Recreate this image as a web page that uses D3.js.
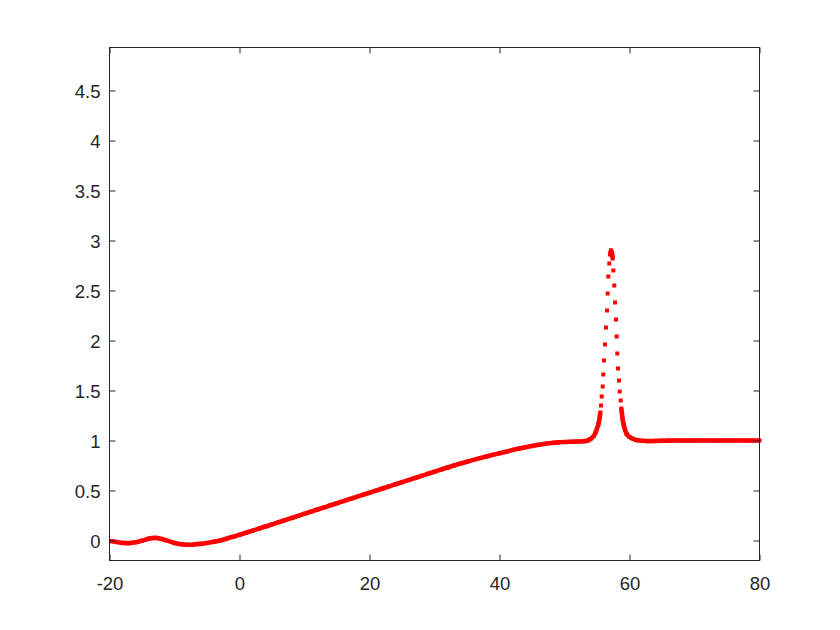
<!DOCTYPE html>
<html>
<head>
<meta charset="utf-8">
<script src="https://cdn.jsdelivr.net/npm/d3@7"></script>
<style>
  html, body { margin: 0; padding: 0; background: #ffffff; }
  svg { display: block; }
</style>
</head>
<body>
<svg id="chart" width="840" height="630"></svg>
<script>
// ---- data ----
const xTickValues = [-20, 0, 20, 40, 60, 80];
const xTickLabels = ["-20", "0", "20", "40", "60", "80"];
const yTickValues = [0, 0.5, 1, 1.5, 2, 2.5, 3, 3.5, 4, 4.5];
const yTickLabels = ["0", "0.5", "1", "1.5", "2", "2.5", "3", "3.5", "4", "4.5"];

const seriesX = [
  -20, -19, -18, -17, -16, -15, -14, -13, -12, -11,
  -10, -9, -8, -7, -6, -5, -4, -3, -2, -1,
  0, 1, 2, 3, 4, 5, 6, 7, 8, 9,
  10, 11, 12, 13, 14, 15, 16, 17, 18, 19,
  20, 21, 22, 23, 24, 25, 26, 27, 28, 29,
  30, 31, 32, 33, 34, 35, 36, 37, 38, 39,
  40, 41, 42, 43, 44, 45, 46, 47, 48, 49,
  50, 51, 52, 53, 53.5, 54, 54.5, 54.8, 55.0, 55.2,
  55.31, 55.42, 55.51, 55.62, 55.72, 55.88, 55.97, 56.08, 56.23, 56.38,
  56.54, 56.64, 56.74, 56.89, 57.0, 57.15, 57.28, 57.41, 57.51, 57.66,
  57.77, 57.92, 58.03, 58.12, 58.23, 58.38, 58.49, 58.65, 58.74, 58.85,
  58.95, 59.1, 59.3, 59.57, 60, 60.6, 61, 62, 63, 64,
  65, 66, 67, 68, 69, 70, 71, 72, 73, 74,
  75, 76, 77, 78, 79, 80
];
const seriesY = [
  -0.005, -0.015, -0.024, -0.026, -0.018, -0.002, 0.018, 0.026, 0.016, -0.004,
  -0.024, -0.037, -0.042, -0.040, -0.034, -0.025, -0.013, 0.001, 0.018, 0.037,
  0.057, 0.077, 0.098, 0.119, 0.140, 0.161, 0.182, 0.204, 0.225, 0.246,
  0.267, 0.289, 0.310, 0.331, 0.352, 0.373, 0.394, 0.415, 0.436, 0.457,
  0.478, 0.499, 0.520, 0.541, 0.562, 0.583, 0.604, 0.625, 0.646, 0.667,
  0.688, 0.709, 0.730, 0.750, 0.769, 0.788, 0.806, 0.824, 0.841, 0.857,
  0.872, 0.887, 0.905, 0.919, 0.933, 0.946, 0.958, 0.967, 0.975, 0.981,
  0.985, 0.988, 0.990, 0.993, 0.998, 1.015, 1.045, 1.085, 1.12, 1.16,
  1.19, 1.23, 1.28, 1.35, 1.44, 1.54, 1.66, 1.80, 1.96, 2.13,
  2.30, 2.47, 2.64, 2.77, 2.86, 2.90, 2.88, 2.82, 2.70, 2.55,
  2.38, 2.21, 2.04, 1.87, 1.72, 1.60, 1.49, 1.40, 1.32, 1.26,
  1.21, 1.16, 1.11, 1.065, 1.035, 1.015, 1.005, 0.997, 0.994, 0.996,
  0.998, 0.999, 1.000, 1.000, 1.000, 1.000, 1.000, 1.000, 1.000, 1.000,
  1.000, 1.000, 1.000, 1.000, 1.000, 1.000
];

(function () {
  const svg = d3.select("#chart");
  const mLeft = 109.5, mRight = 759.5, mTop = 47.5, mBottom = 560.5;
  const axisColor = "#262626";
  const red = "#ff0000";
  const fontFamily = "Arial, 'Liberation Sans', Helvetica, sans-serif";
  const fontSize = 18.5;
  const tickLen = 6;

  const x = d3.scaleLinear().domain([-20, 80]).range([mLeft, mRight]);
  const y = d3.scaleLinear().domain([-0.2, 4.93]).range([mBottom, mTop]);

  const clip = svg.append("clipPath").attr("id", "plotclip");
  clip.append("rect").attr("x", mLeft).attr("y", mTop - 10)
    .attr("width", mRight - mLeft + 6).attr("height", mBottom - mTop + 10);

  const pts = seriesX.map((v, i) => ({ x: v, y: seriesY[i] }));

  const runs = [];
  let cur = [pts[0]];
  for (let i = 1; i < pts.length; i++) {
    const dy = Math.abs(y(pts[i].y) - y(pts[i - 1].y));
    if (dy < 6.5) cur.push(pts[i]);
    else { runs.push(cur); cur = [pts[i]]; }
  }
  runs.push(cur);

  const line = d3.line().x(d => x(d.x)).y(d => y(d.y)).curve(d3.curveCatmullRom.alpha(0.5));
  const dataG = svg.append("g").attr("clip-path", "url(#plotclip)");
  runs.filter(r => r.length > 1).forEach(r => {
    dataG.append("path")
      .attr("d", line(r))
      .attr("fill", "none")
      .attr("stroke", red)
      .attr("stroke-width", 4.6)
      .attr("stroke-linejoin", "round")
      .attr("stroke-linecap", "butt");
  });
  const ms = 4;
  dataG.selectAll("rect.mk").data(pts).enter().append("rect")
    .attr("class", "mk")
    .attr("x", d => x(d.x) - ms / 2)
    .attr("y", d => y(d.y) - ms / 2)
    .attr("width", ms).attr("height", ms)
    .attr("fill", red);

  svg.append("rect")
    .attr("x", mLeft).attr("y", mTop)
    .attr("width", mRight - mLeft).attr("height", mBottom - mTop)
    .attr("fill", "none").attr("stroke", axisColor).attr("stroke-width", 1);

  const xAxisB = d3.axisBottom(x).tickValues(xTickValues)
    .tickFormat((d, i) => xTickLabels[i]).tickSizeInner(-tickLen).tickSizeOuter(0).tickPadding(16);
  const gxb = svg.append("g").attr("transform", `translate(0,${mBottom})`).call(xAxisB);
  const xAxisT = d3.axisTop(x).tickValues(xTickValues).tickFormat("").tickSizeInner(-tickLen).tickSizeOuter(0);
  const gxt = svg.append("g").attr("transform", `translate(0,${mTop})`).call(xAxisT);
  const yAxisL = d3.axisLeft(y).tickValues(yTickValues)
    .tickFormat((d, i) => yTickLabels[i]).tickSizeInner(-tickLen).tickSizeOuter(0).tickPadding(9);
  const gyl = svg.append("g").attr("transform", `translate(${mLeft},0)`).call(yAxisL);
  const yAxisR = d3.axisRight(y).tickValues(yTickValues).tickFormat("").tickSizeInner(-tickLen).tickSizeOuter(0);
  const gyr = svg.append("g").attr("transform", `translate(${mRight},0)`).call(yAxisR);

  [gxb, gxt, gyl, gyr].forEach(g => {
    g.select(".domain").remove();
    g.selectAll(".tick line").attr("stroke", axisColor).attr("stroke-width", 1);
    g.selectAll(".tick text")
      .attr("fill", axisColor)
      .attr("font-family", fontFamily)
      .attr("font-size", fontSize);
  });
  gyl.selectAll(".tick text").attr("dy", "0.36em");
})();
</script>
</body>
</html>
